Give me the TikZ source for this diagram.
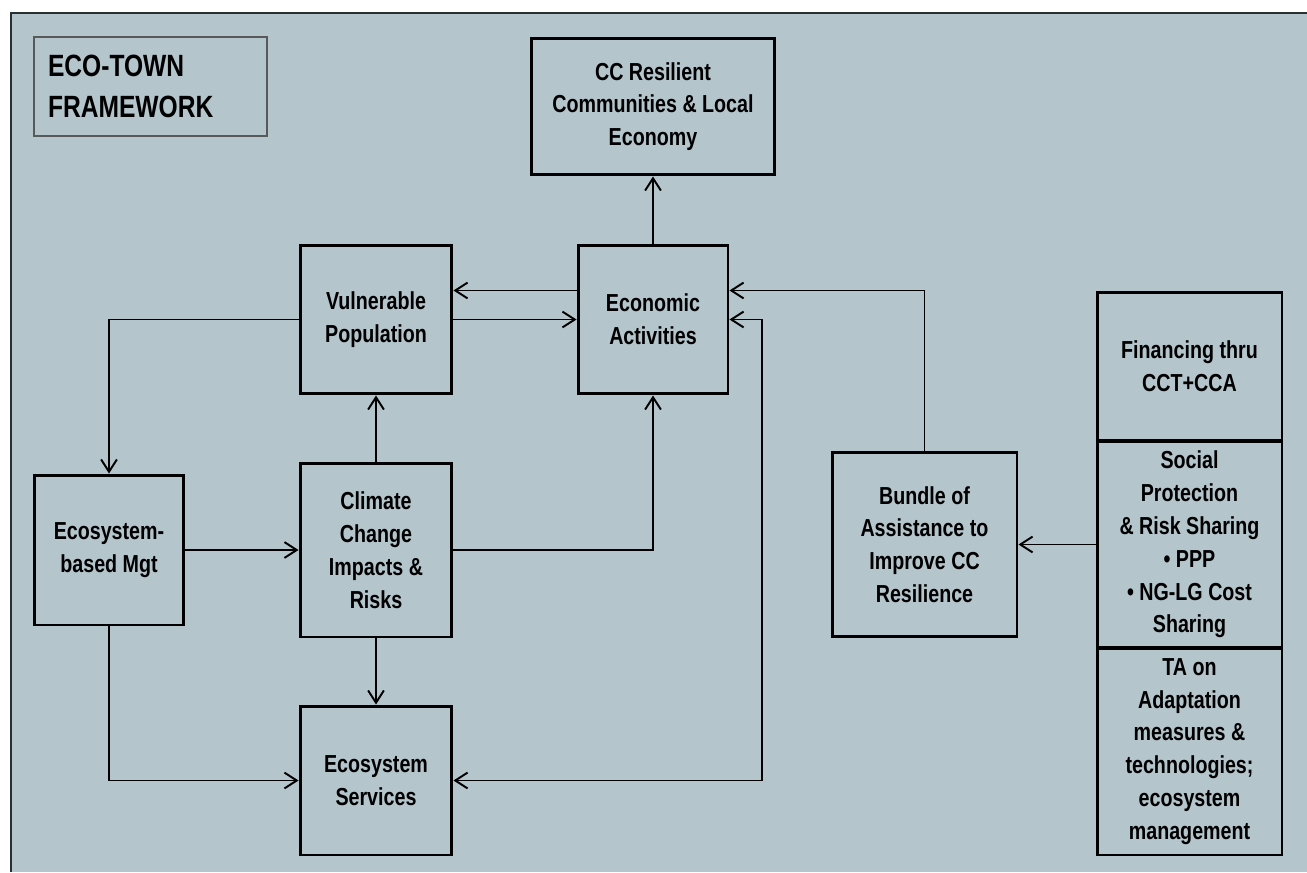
\documentclass[tikz,border=0pt]{standalone}
\usepackage{fontspec}
\setmainfont[FakeStretch=0.8]{Liberation Sans}
\usetikzlibrary{arrows.meta,calc}
\definecolor{bgcol}{RGB}{180,197,204}
\definecolor{framecol}{RGB}{40,48,52}
\begin{document}
\begin{tikzpicture}[x=0.02cm, y=-0.02cm, line join=miter, >={Straight Barb[length=7pt,width=9pt]},
	box/.style={draw, line width=1.7pt, align=center, inner sep=2pt, font=\bfseries\fontsize{14}{18.7}\selectfont},
	titlebox/.style={draw=black!65, line width=0.9pt, align=left, inner sep=0.28cm, text width=4.1cm, minimum height=1.98cm, font=\bfseries\fontsize{17.5}{23.8}\selectfont},
	link/.style={line width=1.1pt}]
		\useasboundingbox (0,0) rectangle (1307,872);
		\fill[bgcol] (11,13) rectangle (1307,872);
		\draw[framecol, line width=1.3pt] (1307,13) -- (11,13) -- (11,872);
		\node[titlebox] (ttl) at (150.5,86.5) {ECO-TOWN\\FRAMEWORK};
		\node[box, minimum width=4.88cm, minimum height=2.74cm] (cc) at (653,106.5) {CC Resilient\\Communities \& Local\\Economy};
		\node[box, minimum width=3.04cm, minimum height=2.98cm] (vul) at (376,319.5) {Vulnerable\\Population};
		\node[box, minimum width=3cm, minimum height=2.98cm] (econ) at (653,319.5) {Economic\\Activities};
		\node[box, minimum width=3cm, minimum height=3cm] (mgt) at (109,550) {Ecosystem-\\based Mgt};
		\node[box, minimum width=3.04cm, minimum height=3.48cm] (cci) at (376,550) {Climate\\Change\\Impacts \&\\Risks};
		\node[box, minimum width=3.04cm, minimum height=2.98cm] (eco) at (376,780.5) {Ecosystem\\Services};
		\node[box, minimum width=3.7cm, minimum height=3.68cm] (bundle) at (924.5,544.5) {Bundle of\\Assistance to\\Improve CC\\Resilience};
		\node[box, minimum width=3.7cm, minimum height=2.98cm] (fin) at (1189.5,366.5) {Financing thru\\CCT+CCA};
		\node[box, minimum width=3.7cm, minimum height=4.14cm] (soc) at (1189.5,544.5) {Social\\Protection\\\& Risk Sharing\\• PPP\\• NG-LG Cost\\Sharing};
		\node[box, minimum width=3.7cm, minimum height=4.14cm] (ta) at (1189.5,751.5) {TA on\\Adaptation\\measures \&\\technologies;\\ecosystem\\management};
		\coordinate (loop) at (762,780.5);
		\draw[link,->] (econ.north) -- (cc.south);
		\draw[link,->] ($(econ.west)+(0,-29)$) -- ($(vul.east)+(0,-29)$);
		\draw[link,->] (vul.east) -- (econ.west);
		\draw[link,->] (vul.west) -| (mgt.north);
		\draw[link,->] (mgt.east) -- (cci.west);
		\draw[link,->] (cci.north) -- (vul.south);
		\draw[link,->] (cci.south) -- (eco.north);
		\draw[link,->] (cci.east) -| (econ.south);
		\draw[link,->] (mgt.south) |- (eco.west);
		\draw[link,->] (bundle.north) |- ($(econ.east)+(0,-29)$);
		\draw[link,<->] (eco.east) -- (loop) |- (econ.east);
		\draw[link,->] (soc.west) -- (bundle.east);
\end{tikzpicture}
\end{document}
